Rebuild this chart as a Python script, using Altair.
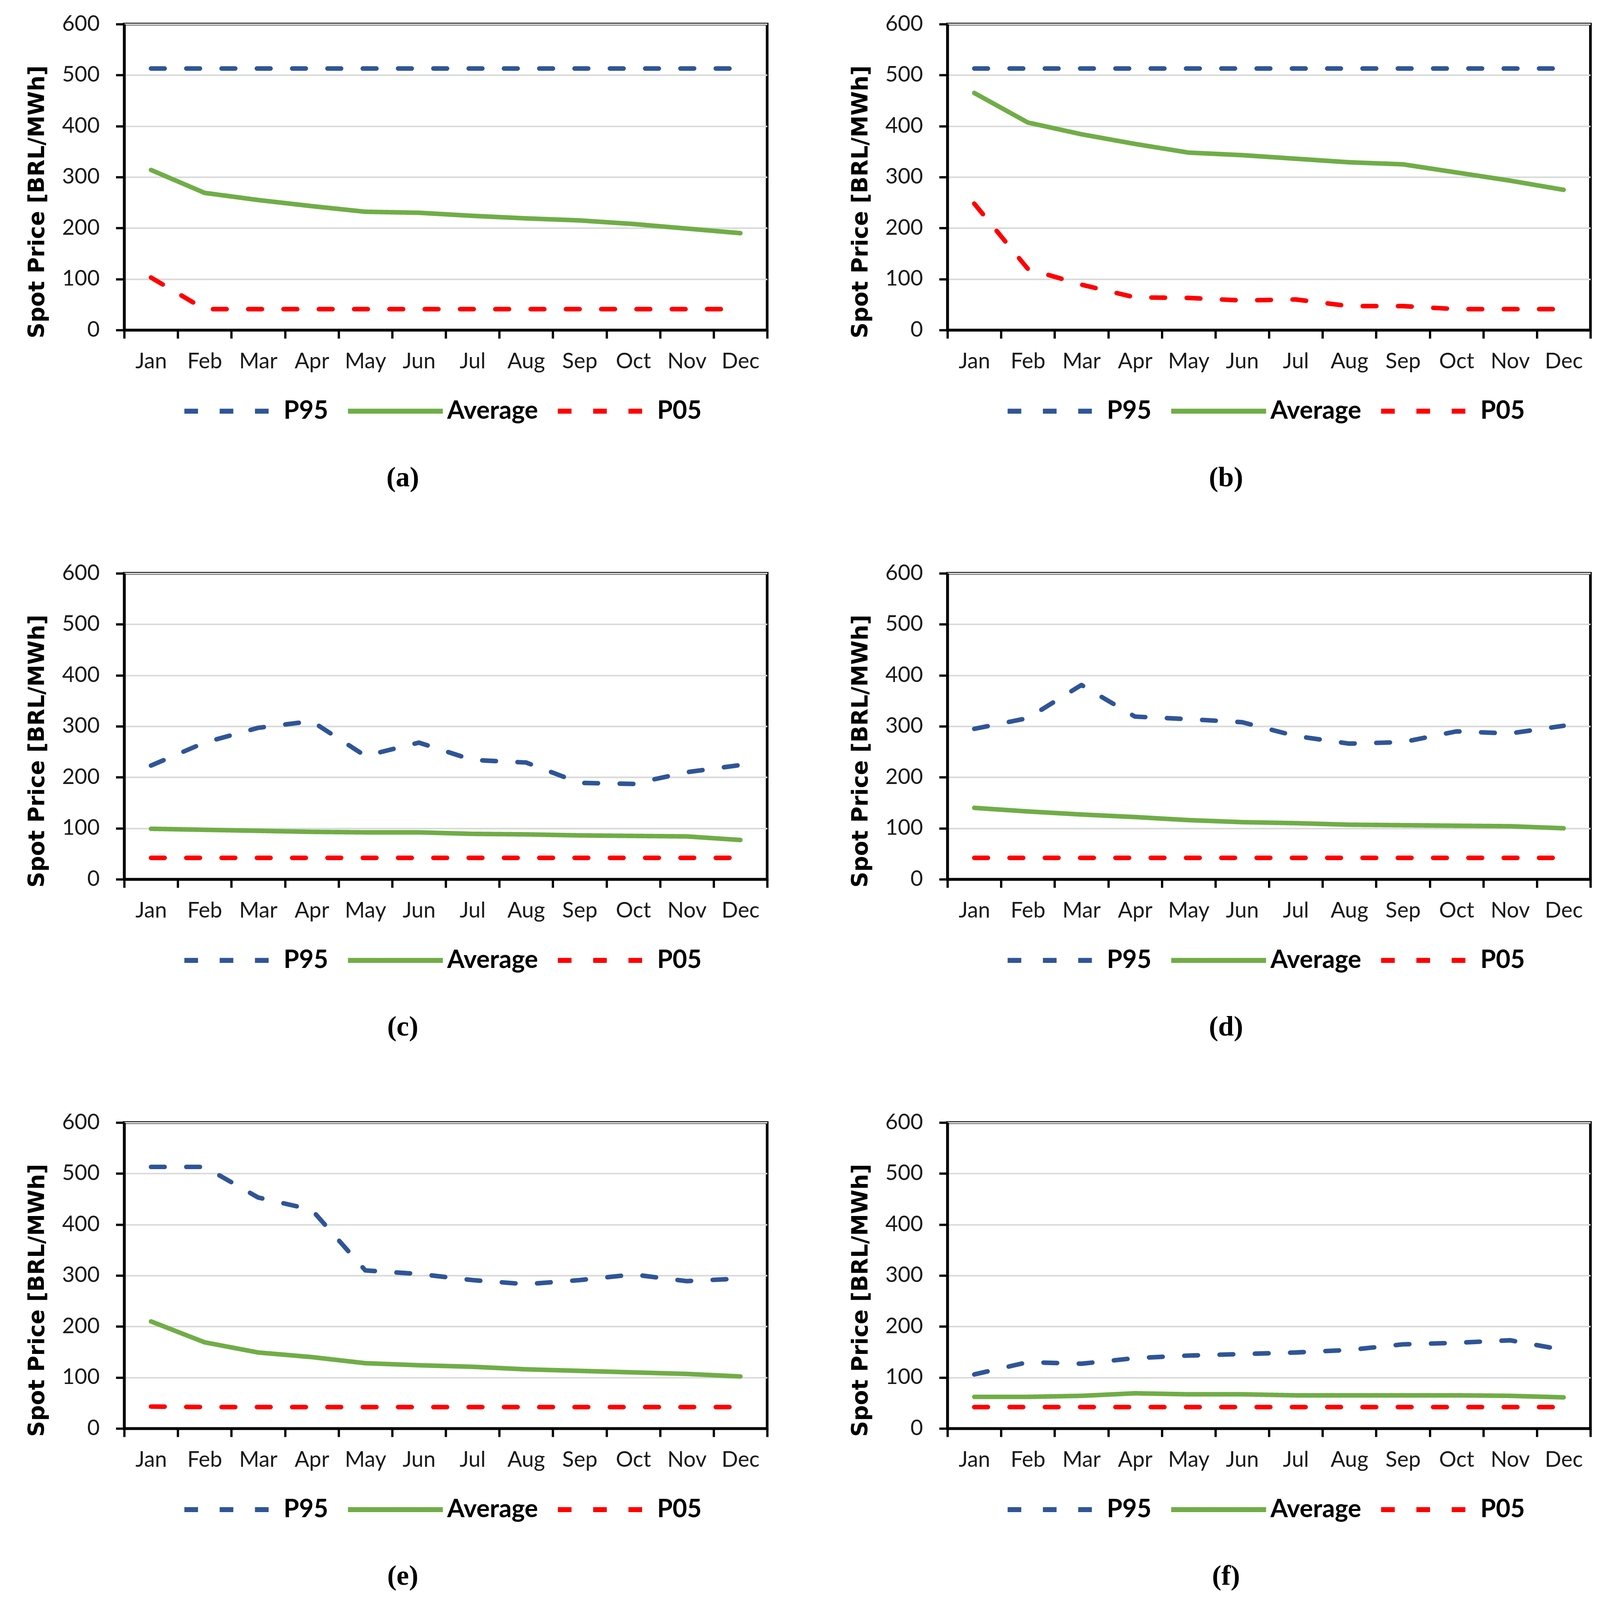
import altair as alt
import pandas as pd

months = ["Jan", "Feb", "Mar", "Apr", "May", "Jun", "Jul", "Aug", "Sep", "Oct", "Nov", "Dec"]
series_names = ["P95", "Average", "P05"]
captions = ["(a)", "(b)", "(c)", "(d)", "(e)", "(f)"]
y_ticks = [0, 100, 200, 300, 400, 500, 600]

a_p95 = [513, 513, 513, 513, 513, 513, 513, 513, 513, 513, 513, 513]
a_avg = [314, 269, 255, 243, 232, 230, 224, 219, 215, 208, 199, 190]
a_p05 = [103, 41, 41, 41, 41, 41, 41, 41, 41, 41, 41, 41]

b_p95 = [513, 513, 513, 513, 513, 513, 513, 513, 513, 513, 513, 513]
b_avg = [465, 407, 384, 365, 348, 343, 336, 329, 325, 309, 293, 275]
b_p05 = [248, 120, 89, 64, 63, 58, 60, 47, 47, 41, 41, 41]

c_p95 = [223, 268, 297, 310, 242, 268, 234, 229, 189, 187, 210, 224]
c_avg = [99, 97, 95, 93, 92, 92, 89, 88, 86, 85, 84, 77]
c_p05 = [42, 42, 42, 42, 42, 42, 42, 42, 42, 42, 42, 42]

d_p95 = [295, 316, 381, 319, 314, 308, 281, 266, 269, 290, 286, 301]
d_avg = [140, 133, 127, 122, 116, 112, 110, 107, 106, 105, 104, 100]
d_p05 = [42, 42, 42, 42, 42, 42, 42, 42, 42, 42, 42, 42]

e_p95 = [513, 513, 453, 429, 310, 303, 291, 283, 291, 302, 289, 294]
e_avg = [210, 169, 149, 140, 128, 124, 121, 116, 113, 110, 107, 102]
e_p05 = [43, 42, 42, 42, 42, 42, 42, 42, 42, 42, 42, 42]

f_p95 = [106, 130, 127, 138, 143, 146, 149, 154, 165, 168, 173, 154]
f_avg = [62, 62, 64, 69, 67, 67, 65, 65, 65, 65, 64, 61]
f_p05 = [42, 42, 42, 42, 42, 42, 42, 42, 42, 42, 42, 42]

panels_data = [
    (a_p95, a_avg, a_p05),
    (b_p95, b_avg, b_p05),
    (c_p95, c_avg, c_p05),
    (d_p95, d_avg, d_p05),
    (e_p95, e_avg, e_p05),
    (f_p95, f_avg, f_p05),
]

colors = ["#2F5597", "#70AD47", "#FF0000"]
dashes = [[36, 57], [1, 0], [36, 57]]

W, H = 1694, 806


def make_df(vals):
    rows = []
    for name, series in zip(series_names, vals):
        for m, v in zip(months, series):
            rows.append({"month": m, "series": name, "value": v})
    return pd.DataFrame(rows)


def legend():
    return alt.Legend(
        title=None,
        orient="none",
        legendX=152,
        legendY=H + 82,
        direction="horizontal",
        columns=3,
        symbolType="stroke",
        symbolSize=62500,
        symbolStrokeWidth=13,
        labelFont="Lato",
        labelFontSize=66,
        labelFontWeight="bold",
        labelColor="black",
        labelLimit=600,
        labelOffset=5,
        columnPadding=25,
    )


def panel(vals, caption):
    df = make_df(vals)
    return (
        alt.Chart(df)
        .mark_line(strokeWidth=12, strokeJoin="round", strokeCap="round")
        .encode(
            x=alt.X(
                "month:N",
                sort=months,
                scale=alt.Scale(type="band", paddingInner=0, paddingOuter=0),
                axis=alt.Axis(title=None, tickBand="extent", labelAngle=0, grid=False),
            ),
            y=alt.Y(
                "value:Q",
                scale=alt.Scale(domain=[0, 600], nice=False),
                axis=alt.Axis(values=y_ticks, title="Spot Price [BRL/MWh]", titleY=468),
            ),
            color=alt.Color(
                "series:N",
                sort=series_names,
                scale=alt.Scale(domain=series_names, range=colors),
                legend=legend(),
            ),
            strokeDash=alt.StrokeDash(
                "series:N",
                sort=series_names,
                scale=alt.Scale(domain=series_names, range=dashes),
                legend=legend(),
            ),
        )
        .properties(
            width=W,
            height=H,
            title=alt.TitleParams(
                caption,
                orient="bottom",
                anchor="middle",
                frame="bounds",
                font="Liberation Serif",
                fontSize=74,
                fontWeight="bold",
                color="black",
                offset=107,
                dx=14,
            ),
        )
    )


charts = [panel(v, c) for v, c in zip(panels_data, captions)]

chart = (
    alt.concat(*charts, columns=2, spacing={"row": 177, "column": 207})
    .resolve_scale(color="independent", strokeDash="independent")
    .properties(padding={"top": -38, "left": 58, "right": 10, "bottom": 10}, background="white")
    .configure_view(stroke="black", strokeWidth=7)
    .configure_axis(
        domainColor="black",
        domainWidth=7,
        tickColor="black",
        tickWidth=6,
        tickSize=22,
        labelFont="Lato",
        labelFontSize=57,
        labelColor="#1a1a1a",
        gridColor="#d9d9d9",
        gridWidth=4,
    )
    .configure_axisX(labelPadding=33)
    .configure_axisY(
        labelPadding=43,
        titleFont="DejaVu Sans",
        titleFontSize=58,
        titleFontWeight="bold",
        titleColor="black",
        titlePadding=35,
    )
)

chart.save("out.html", embed_options={"renderer": "svg", "actions": False})
